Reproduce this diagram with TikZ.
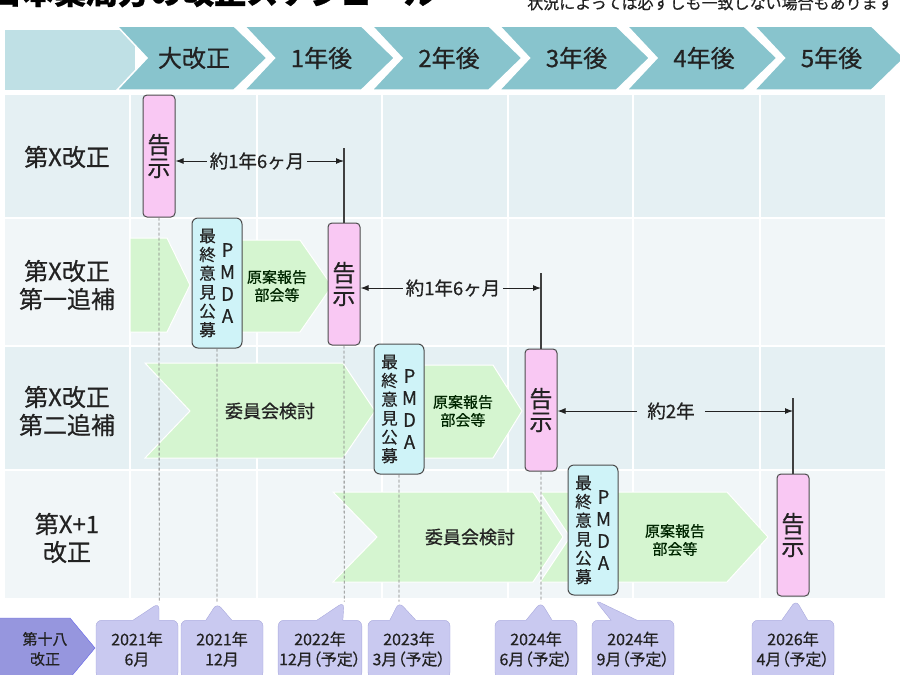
\documentclass[tikz,border=0pt]{standalone}
\usepackage{fontspec}
\setmainfont{Noto Sans CJK JP}[FakeBold=0.6]
\newfontfamily\datefont[RawFeature=+palt,FakeBold=0.6]{Noto Sans CJK JP}
\usetikzlibrary{arrows.meta,shapes.callouts,positioning}

\definecolor{hdrteal}{HTML}{88C4CD}
\definecolor{hdrpale}{HTML}{BFE0E5}
\definecolor{rowdark}{HTML}{E5F0F3}
\definecolor{rowlight}{HTML}{F1F6F8}
\definecolor{stepgreen}{HTML}{D5F5D0}
\definecolor{kokupink}{HTML}{F9C8F3}
\definecolor{pmdacyan}{HTML}{CFF3F8}
\definecolor{datelav}{HTML}{C9C9F0}
\definecolor{edgelav}{HTML}{A9A9DC}
\definecolor{darklav}{HTML}{9696DE}
\definecolor{ink}{HTML}{222222}

\newcommand{\fsz}[2]{\fontsize{#1}{#2}\selectfont}
\newcommand{\pmdatext}{\parbox[c]{18pt}{\centering\fsz{16.5}{18.8}最\\終\\意\\見\\公\\募}\hspace{3pt}\parbox[c]{16pt}{\centering\fsz{18.5}{22}P\\M\\D\\A}}

\tikzset{
  hdrchev/.style={fill=hdrteal, draw=white, line width=1.5pt},
  hdrtext/.style={font=\fsz{24}{24}, text=ink},
  rowlabel/.style={font=\fsz{24}{28}, align=center, text=ink},
  stepshape/.style={fill=stepgreen, draw=white, line width=1pt},
  steptext/.style={font=\fsz{18}{20}, text=ink},
  plantext/.style={font=\fsz{15}{18}, align=center, text=green!15!black},
  kokuji/.style={draw=black!70, line width=1pt, fill=kokupink, rounded corners=4pt,
    minimum width=32, minimum height=122, inner sep=0pt, align=center, font=\fsz{23}{23}, text=ink},
  pmda/.style={draw=black!70, line width=1pt, fill=pmdacyan, rounded corners=6pt,
    minimum width=50, minimum height=130, inner sep=0pt, text=ink},
  spantext/.style={font=\fsz{18.5}{20}, inner xsep=3pt, text=ink},
  spanarrow/.style={-{Latex[length=8pt,width=6pt]}, line width=1pt, draw=ink},
  barline/.style={draw=black!75, line width=1.2pt},
  dateline/.style={draw=gray, line width=0.8pt, dash pattern=on 3pt off 2pt},
  datebox/.style={rectangle callout, draw=edgelav, fill=datelav, rounded corners=6pt,
    minimum width=82, minimum height=58, inner xsep=1pt, anchor=north, align=center,
    font=\datefont\fsz{16}{20}, text=ink, callout pointer width=26},
}

\begin{document}
\begin{tikzpicture}[x=1pt,y=-1pt]
\useasboundingbox (0,0) rectangle (900,675);

% title and note, cut by the top edge
\node[anchor=base west, inner sep=0pt, font=\fsz{32}{32}\bfseries] (title) at (-10,4) {日本薬局方の改正スケジュール};
\node[anchor=base west, inner sep=0pt, font=\fsz{16}{16}, text=ink] (note) at (527,9) {状況によっては必ずしも一致しない場合もあります};

% header
\fill[hdrpale] (5,30) rectangle (135,90);
\foreach \t [count=\i from 0] in {大改正,1年後,2年後,3年後,4年後,5年後} {
  \pgfmathsetmacro\L{117+127.5*\i}
  \filldraw[hdrchev] (\L,26) -- ++(117,0) -- ++(33,32) -- ++(-33,32) -- ++(-117,0) -- ++(30,-32) -- cycle;
  \node[hdrtext] (h\i) at (\L+77,58) {\t};
}

% rows
\fill[rowdark] (5,95) rectangle (885,218);
\fill[rowlight] (5,218) rectangle (885,346);
\fill[rowdark] (5,346) rectangle (885,470);
\fill[rowlight] (5,470) rectangle (885,598);
\foreach \y in {218,346,470} \draw[white, line width=1.5pt] (5,\y) -- (885,\y);
\foreach \x in {130,257,382,508,633,760} \draw[white, line width=1.5pt] (\x,95) -- (\x,598);

\node[rowlabel] (r1) at (67,157) {第X改正};
\node[rowlabel] (r2) at (67,285) {第X改正\\第一追補};
\node[rowlabel] (r3) at (67,411) {第X改正\\第二追補};
\node[rowlabel] (r4) at (67,538) {第X+1\\改正};

% steps
\filldraw[stepshape] (130,238) -- (167,238) -- (190,285) -- (167,332) -- (130,332) -- cycle;
\filldraw[stepshape] (235,240) -- (300,240) -- (332,286) -- (300,332) -- (235,332) -- cycle;
\filldraw[stepshape] (145,363) -- (343,363) -- (375,411) -- (343,458) -- (145,458) -- (190,411) -- cycle;
\filldraw[stepshape] (420,365) -- (493,365) -- (522,411) -- (493,458) -- (420,458) -- cycle;
\filldraw[stepshape] (333,492) -- (533,492) -- (563,537) -- (533,582) -- (333,582) -- (377,537) -- cycle;
\filldraw[stepshape] (540,492) -- (727,492) -- (768,537) -- (727,582) -- (540,582) -- (570,537) -- cycle;
\node[plantext] (p1) at (277,286) {原案報告\\部会等};
\node[steptext] (c1) at (270,411) {委員会検討};
\node[plantext] (p2) at (463,411) {原案報告\\部会等};
\node[steptext] (c2) at (470,537) {委員会検討};
\node[plantext] (p3) at (675,540) {原案報告\\部会等};

% dates
\node[datebox, callout absolute pointer={(159,603)}] (d1) at (137,620) {2021年\\6月};
\node[datebox, callout absolute pointer={(217,603)}] (d2) at (222,620) {2021年\\12月};
\node[datebox, callout absolute pointer={(344,602)}] (d3) at (320,620) {2022年\\12月（予定）};
\node[datebox, callout absolute pointer={(399,602)}] (d4) at (409,620) {2023年\\3月（予定）};
\node[datebox, callout absolute pointer={(541,602)}] (d5) at (536,620) {2024年\\6月（予定）};
\node[datebox, callout absolute pointer={(595,600)}] (d6) at (633,620) {2024年\\9月（予定）};
\node[datebox, callout absolute pointer={(796,600)}] (d7) at (793,620) {2026年\\4月（予定）};

\filldraw[draw=edgelav!60!blue, fill=darklav] (-2,618) -- (70,618) -- (95,648) -- (70,678) -- (-2,678) -- cycle;
\node[font=\fsz{15}{20}, align=center, text=ink] (ed) at (45,649) {第十八\\改正};

% kokuji and PMDA boxes
\node[kokuji] (k1) at (159,156) {告\\示};
\node[kokuji] (k2) at (344,284) {告\\示};
\node[kokuji] (k3) at (541,410) {告\\示};
\node[kokuji] (k4) at (793,535) {告\\示};
\node[pmda] (m1) at (217,283) {\pmdatext};
\node[pmda] (m2) at (399,409) {\pmdatext};
\node[pmda] (m3) at (593,530) {\pmdatext};

\draw[dateline] (k1.south) -- (d1.pointer);
\draw[dateline] (m1.south) -- (d2.pointer);
\draw[dateline] (k2.south) -- (d3.pointer);
\draw[dateline] (m2.south) -- (d4.pointer);
\draw[dateline] (k3.south) -- (d5.pointer);

% spans
\coordinate (e1) at (344,148);
\coordinate (e2) at (541,273);
\coordinate (e3) at (793,398);
\draw[barline] (e1) -- (k2.north);
\draw[barline] (e2) -- (k3.north);
\draw[barline] (e3) -- (k4.north);
\node[spantext] (s1) at (257,161) {約1年6ヶ月};
\node[spantext] (s2) at (453,288) {約1年6ヶ月};
\node[spantext, inner xsep=10pt] (s3) at (671,411) {約2年};
\draw[spanarrow] (s1.west) -- (s1.west -| k1.east);
\draw[spanarrow] (s1.east) -- (s1.east -| e1);
\draw[spanarrow] (s2.west) -- (s2.west -| k2.east);
\draw[spanarrow] (s2.east) -- (s2.east -| e2);
\draw[spanarrow] (s3.west) -- (s3.west -| k3.east);
\draw[spanarrow] (s3.east) -- (s3.east -| e3);
\end{tikzpicture}
\end{document}
